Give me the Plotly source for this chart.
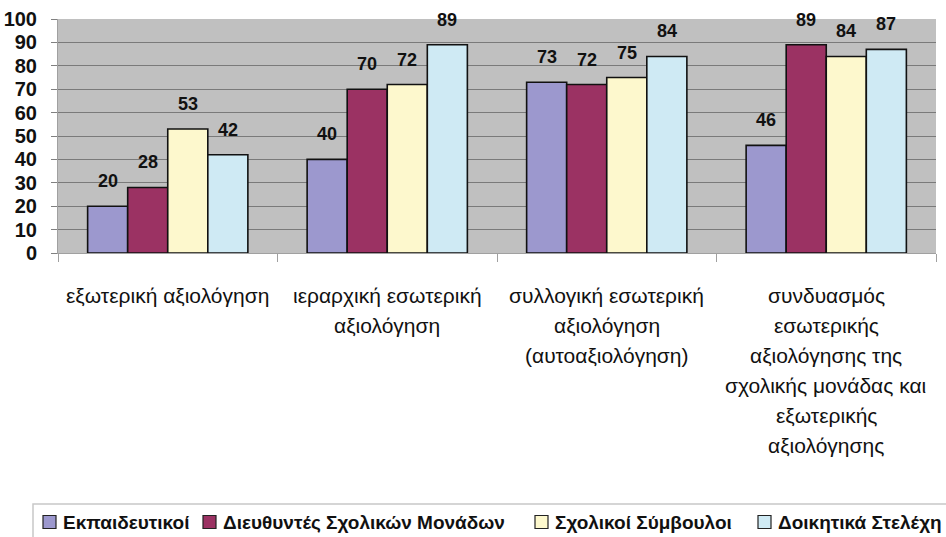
import plotly.graph_objects as go

categories = ["c1", "c2", "c3", "c4"]
category_lines = [
    ["εξωτερική αξιολόγηση"],
    ["ιεραρχική εσωτερική", "αξιολόγηση"],
    ["συλλογική εσωτερική", "αξιολόγηση", "(αυτοαξιολόγηση)"],
    ["συνδυασμός", "εσωτερικής", "αξιολόγησης της", "σχολικής μονάδας και", "εξωτερικής", "αξιολόγησης"],
]
series_names = ["Εκπαιδευτικοί", "Διευθυντές Σχολικών Μονάδων", "Σχολικοί Σύμβουλοι", "Δοικητικά Στελέχη"]
teachers = [20, 40, 73, 46]
principals = [28, 70, 72, 89]
advisors = [53, 72, 75, 84]
admins = [42, 89, 84, 87]
y_ticks = [0, 10, 20, 30, 40, 50, 60, 70, 80, 90, 100]

series_values = [teachers, principals, advisors, admins]
colors = ["#9C98CE", "#9B3263", "#FDF8CD", "#CFEAF4"]

FONT = "Liberation Sans, Arial, sans-serif"
W, H = 946, 537
ML, MR, MT, MB = 58, 10, 19, 284
PW = W - ML - MR
PH = H - MT - MB

fig = go.Figure()
for name, vals, col in zip(series_names, series_values, colors):
    fig.add_trace(go.Bar(
        x=categories, y=vals, name=name, showlegend=False,
        marker=dict(color=col, line=dict(color="#111111", width=1.6)),
    ))

annotations = []
shapes = []
n = len(series_names)
GAP = 0.27
bar_w = (1 - GAP) / n
for si, vals in enumerate(series_values):
    offset = -0.5 * (1 - GAP) + bar_w * (si + 0.5)
    for ci, v in enumerate(vals):
        annotations.append(dict(
            x=ci + offset, y=v, xref="x", yref="y", text=f"<b>{v}</b>",
            showarrow=False, yanchor="middle", yshift=25,
            font=dict(family=FONT, size=18, color="#111111"),
        ))

for ci, lines in enumerate(category_lines):
    for li, line in enumerate(lines):
        annotations.append(dict(
            x=ci, y=0, xref="x", yref="paper", text=line, showarrow=False,
            yanchor="middle", yshift=-(42 + 30 * li),
            font=dict(family=FONT, size=21, color="#111111"),
        ))


# custom legend (pixel layout converted to paper coordinates)
def px_x(p):
    return (p - ML) / PW


def px_y(p):
    return (H - MB - p) / PH


shapes.append(dict(
    type="rect", xref="paper", yref="paper",
    x0=px_x(33), x1=px_x(980), y0=px_y(504), y1=px_y(560),
    line=dict(color="#C8C8C8", width=1.5), fillcolor="white", layer="below",
))
legend_sq_x = [43, 203, 535, 758]
LEG_Y = 522
for name, col, sx in zip(series_names, colors, legend_sq_x):
    shapes.append(dict(
        type="rect", xref="paper", yref="paper",
        x0=px_x(sx), x1=px_x(sx + 13), y0=px_y(LEG_Y + 6.5), y1=px_y(LEG_Y - 6.5),
        line=dict(color="#222222", width=1.2), fillcolor=col,
    ))
    annotations.append(dict(
        x=px_x(sx + 18), y=px_y(LEG_Y), xref="paper", yref="paper",
        text=f"<b>{name}</b>", showarrow=False, xanchor="left", yanchor="middle",
        font=dict(family=FONT, size=19, color="#111111"),
    ))

fig.update_layout(
    width=W, height=H,
    margin=dict(l=ML, r=MR, t=MT, b=MB, autoexpand=False),
    paper_bgcolor="white", plot_bgcolor="#C0C0C0",
    barmode="group", bargap=GAP, bargroupgap=0,
    showlegend=False,
    annotations=annotations,
    shapes=shapes,
    xaxis=dict(
        type="category", range=[-0.5, 3.5], showticklabels=False,
        tickson="boundaries", ticks="outside", ticklen=8, tickcolor="#A0A0A0",
        showline=True, linecolor="#A0A0A0", linewidth=1, showgrid=False,
        automargin=False,
    ),
    yaxis=dict(
        range=[0, 100], tickvals=y_ticks, ticktext=[f"<b>{t}</b>" for t in y_ticks],
        ticks="outside", ticklen=6, ticklabelstandoff=10,
        tickcolor="#808080", showgrid=True, gridcolor="#7A7A7A", gridwidth=1,
        showline=True, linecolor="#A0A0A0", zeroline=False, automargin=False,
        tickfont=dict(family=FONT, size=20, color="#111111"),
    ),
)

fig.write_html(
    "out.html",
    config={"displayModeBar": False},
    post_script="document.body.style.margin='0';document.body.style.overflow='hidden';",
)
